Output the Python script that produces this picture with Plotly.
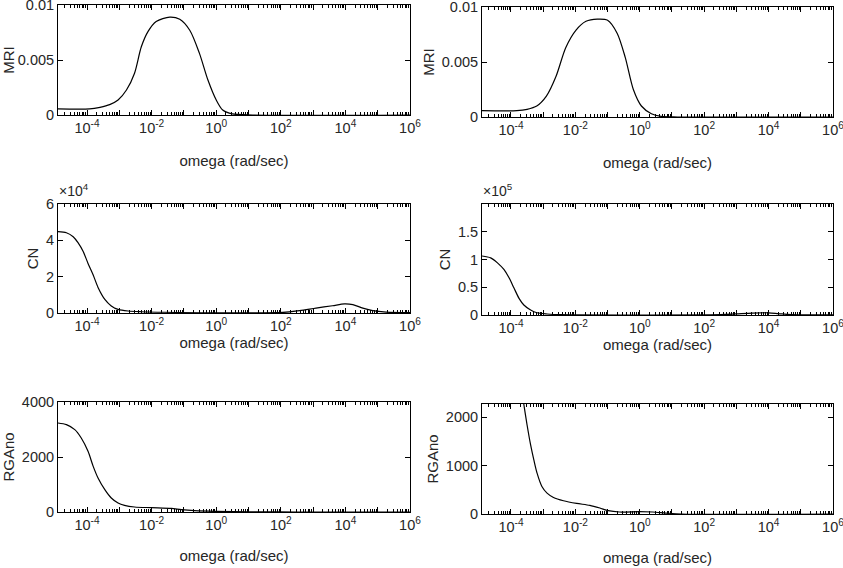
import math
import plotly.graph_objects as go

W, H = 843, 568

# ---- data (log10 of omega, values) ----
mri_l_logw = [-4.9, -3.92, -3.6, -3.3, -3.04, -2.78, -2.53, -2.32, -2.11, -1.86, -1.44, -1.13, -0.82, -0.52, -0.26, 0.0, 0.2, 0.5, 1.13, 6.0]
mri_l_val = [0.00055, 0.00055, 0.0007, 0.00094, 0.00136, 0.00227, 0.0038, 0.0062, 0.0076, 0.0085, 0.0089, 0.0087, 0.0077, 0.0056, 0.0032, 0.00136, 0.00045, 0.0001, 0.0, 0.0]

mri_r_logw = [-4.9, -3.82, -3.5, -3.2, -2.9, -2.6, -2.3, -1.98, -1.67, -1.32, -1.0, -0.7, -0.45, -0.2, 0.05, 0.36, 0.66, 1.17, 6.0]
mri_r_val = [0.00058, 0.00058, 0.0007, 0.0010, 0.0019, 0.0037, 0.0063, 0.0079, 0.0087, 0.0089, 0.0088, 0.0076, 0.0054, 0.0025, 0.0010, 0.0003, 0.00006, 0.0, 0.0]

cn_l_logw = [-4.9, -4.64, -4.43, -4.28, -4.12, -3.97, -3.81, -3.66, -3.45, -3.25, -3.04, -2.73, -2.32, -1.6, 2.06, 2.58, 3.09, 3.6, 3.97, 4.23, 4.54, 4.85, 5.26, 6.0]
cn_l_val = [44800, 44200, 42000, 38700, 33800, 27300, 20900, 14100, 7500, 3900, 2000, 1100, 700, 400, 300, 1300, 2700, 4000, 5000, 4600, 2700, 1300, 500, 200]

cn_r_logw = [-4.9, -4.63, -4.42, -4.22, -4.06, -3.91, -3.75, -3.6, -3.39, -3.19, -2.88, -2.47, 2.5, 3.0, 3.5, 4.0, 4.3, 4.7, 6.0]
cn_r_val = [106300, 103000, 94000, 82000, 67000, 49000, 30000, 18000, 9000, 4000, 1800, 600, 500, 2000, 3500, 4000, 2500, 500, 300]

rga_l_logw = [-4.9, -4.64, -4.38, -4.18, -3.97, -3.81, -3.66, -3.45, -3.25, -3.04, -2.84, -2.53, -2.01, -1.39, -1.08, -0.67, -0.05, 1.03, 2.5, 6.0]
rga_l_val = [3236, 3176, 2994, 2690, 2206, 1660, 1236, 812, 509, 327, 242, 182, 158, 133, 85, 48, 24, 10, 0, 0]

rga_r_logw = [-4.0, -3.8, -3.6, -3.5, -3.39, -3.29, -3.19, -3.04, -2.88, -2.68, -2.37, -1.96, -1.55, -1.24, -0.98, -0.63, -0.01, 0.4, 0.81, 1.3, 6.0]
rga_r_val = [4300, 3140, 2260, 1836, 1425, 1116, 842, 568, 432, 342, 274, 219, 178, 123, 68, 41, 48, 41, 20, 0, 0]

x_title = "omega (rad/sec)"
major_exp = [-4, -2, 0, 2, 4, 6]

# ---- layout helpers ----
FONT = "Liberation Sans, Arial, sans-serif"
TXT = "#262626"

def fx(px):
    return px / W

def fy(py):
    return 1 - py / H

panels = [
    ((58, 410, 5, 115), mri_l_logw, mri_l_val, "MRI", [0, 0.01], [0, 0.005, 0.01], ["0", "0.005", "0.01"], None, 20),
    ((482, 833, 7, 117), mri_r_logw, mri_r_val, "MRI", [0, 0.01], [0, 0.005, 0.01], ["0", "0.005", "0.01"], None, 20),
    ((58, 410, 204, 313), cn_l_logw, cn_l_val, "CN", [0, 60000], [0, 20000, 40000, 60000], ["0", "2", "4", "6"], "4", 0),
    ((482, 833, 204, 315), cn_r_logw, cn_r_val, "CN", [0, 200000], [0, 50000, 100000, 150000], ["0", "0.5", "1", "1.5"], "5", 0),
    ((58, 410, 402, 512), rga_l_logw, rga_l_val, "RGAno", [0, 4000], [0, 2000, 4000], ["0", "2000", "4000"], None, 18),
    ((482, 833, 404, 514), rga_r_logw, rga_r_val, "RGAno", [0, 2270], [0, 1000, 2000], ["0", "1000", "2000"], None, 18),
]

major_vals = [10.0 ** e for e in range(-4, 7)]
major_text = ["10<sup>%d</sup>" % e if e in major_exp else "" for e in range(-4, 7)]
minor_vals = [k * 10.0 ** e for e in range(-5, 6) for k in range(2, 10)
              if -4.9 <= math.log10(k * 10.0 ** e) <= 6]

fig = go.Figure()
annotations = []
for i, (box, lw, vals, yt, yr, ytv, ytt, expo, xstand) in enumerate(panels, start=1):
    x0, x1, y0, y1 = box
    xs = [10.0 ** v for v in lw]
    sfx = "" if i == 1 else str(i)
    fig.add_trace(go.Scatter(x=xs, y=vals, mode="lines",
                             line=dict(color="black", width=1.2, shape="spline", smoothing=0.8),
                             xaxis="x" + sfx, yaxis="y" + sfx,
                             showlegend=False, hoverinfo="skip"))
    fig.layout["xaxis" + sfx] = dict(
        type="log", range=[-4.9, 6.0], domain=[fx(x0), fx(x1)], anchor="y" + sfx,
        automargin=False, ticklabeloverflow="allow",
        tickmode="array", tickvals=major_vals, ticktext=major_text,
        ticks="inside", ticklen=5, tickwidth=1, tickcolor="black",
        minor=dict(tickmode="array", tickvals=minor_vals, ticks="inside", ticklen=3,
                   tickwidth=1, tickcolor="black", showgrid=False),
        showline=True, linecolor="black", linewidth=1, mirror="ticks",
        showgrid=False, zeroline=False,
        tickfont=dict(family=FONT, size=14.5, color=TXT),
        title=dict(text=x_title, font=dict(family=FONT, size=15, color=TXT), standoff=xstand),
    )
    fig.layout["yaxis" + sfx] = dict(
        range=yr, domain=[fy(y1), fy(y0)], anchor="x" + sfx,
        automargin=False, ticklabeloverflow="allow",
        tickmode="array", tickvals=ytv, ticktext=ytt,
        ticks="inside", ticklen=5, tickwidth=1, tickcolor="black",
        showline=True, linecolor="black", linewidth=1, mirror="ticks",
        showgrid=False, zeroline=False,
        tickfont=dict(family=FONT, size=14.5, color=TXT),
        title=dict(text=yt, font=dict(family=FONT, size=15, color=TXT), standoff=3),
    )
    if expo:
        annotations.append(dict(text="\u00d710<sup>%s</sup>" % expo, x=fx(x0 - 1), y=fy(y0 - 3),
                                xref="paper", yref="paper", xanchor="left", yanchor="bottom",
                                showarrow=False, font=dict(family=FONT, size=14, color=TXT)))

fig.update_layout(width=W, height=H, margin=dict(l=0, r=0, t=0, b=0),
                  paper_bgcolor="white", plot_bgcolor="white",
                  annotations=annotations)
fig.write_html("out.html", config={"displayModeBar": False},
               post_script="document.body.style.margin='0';")
